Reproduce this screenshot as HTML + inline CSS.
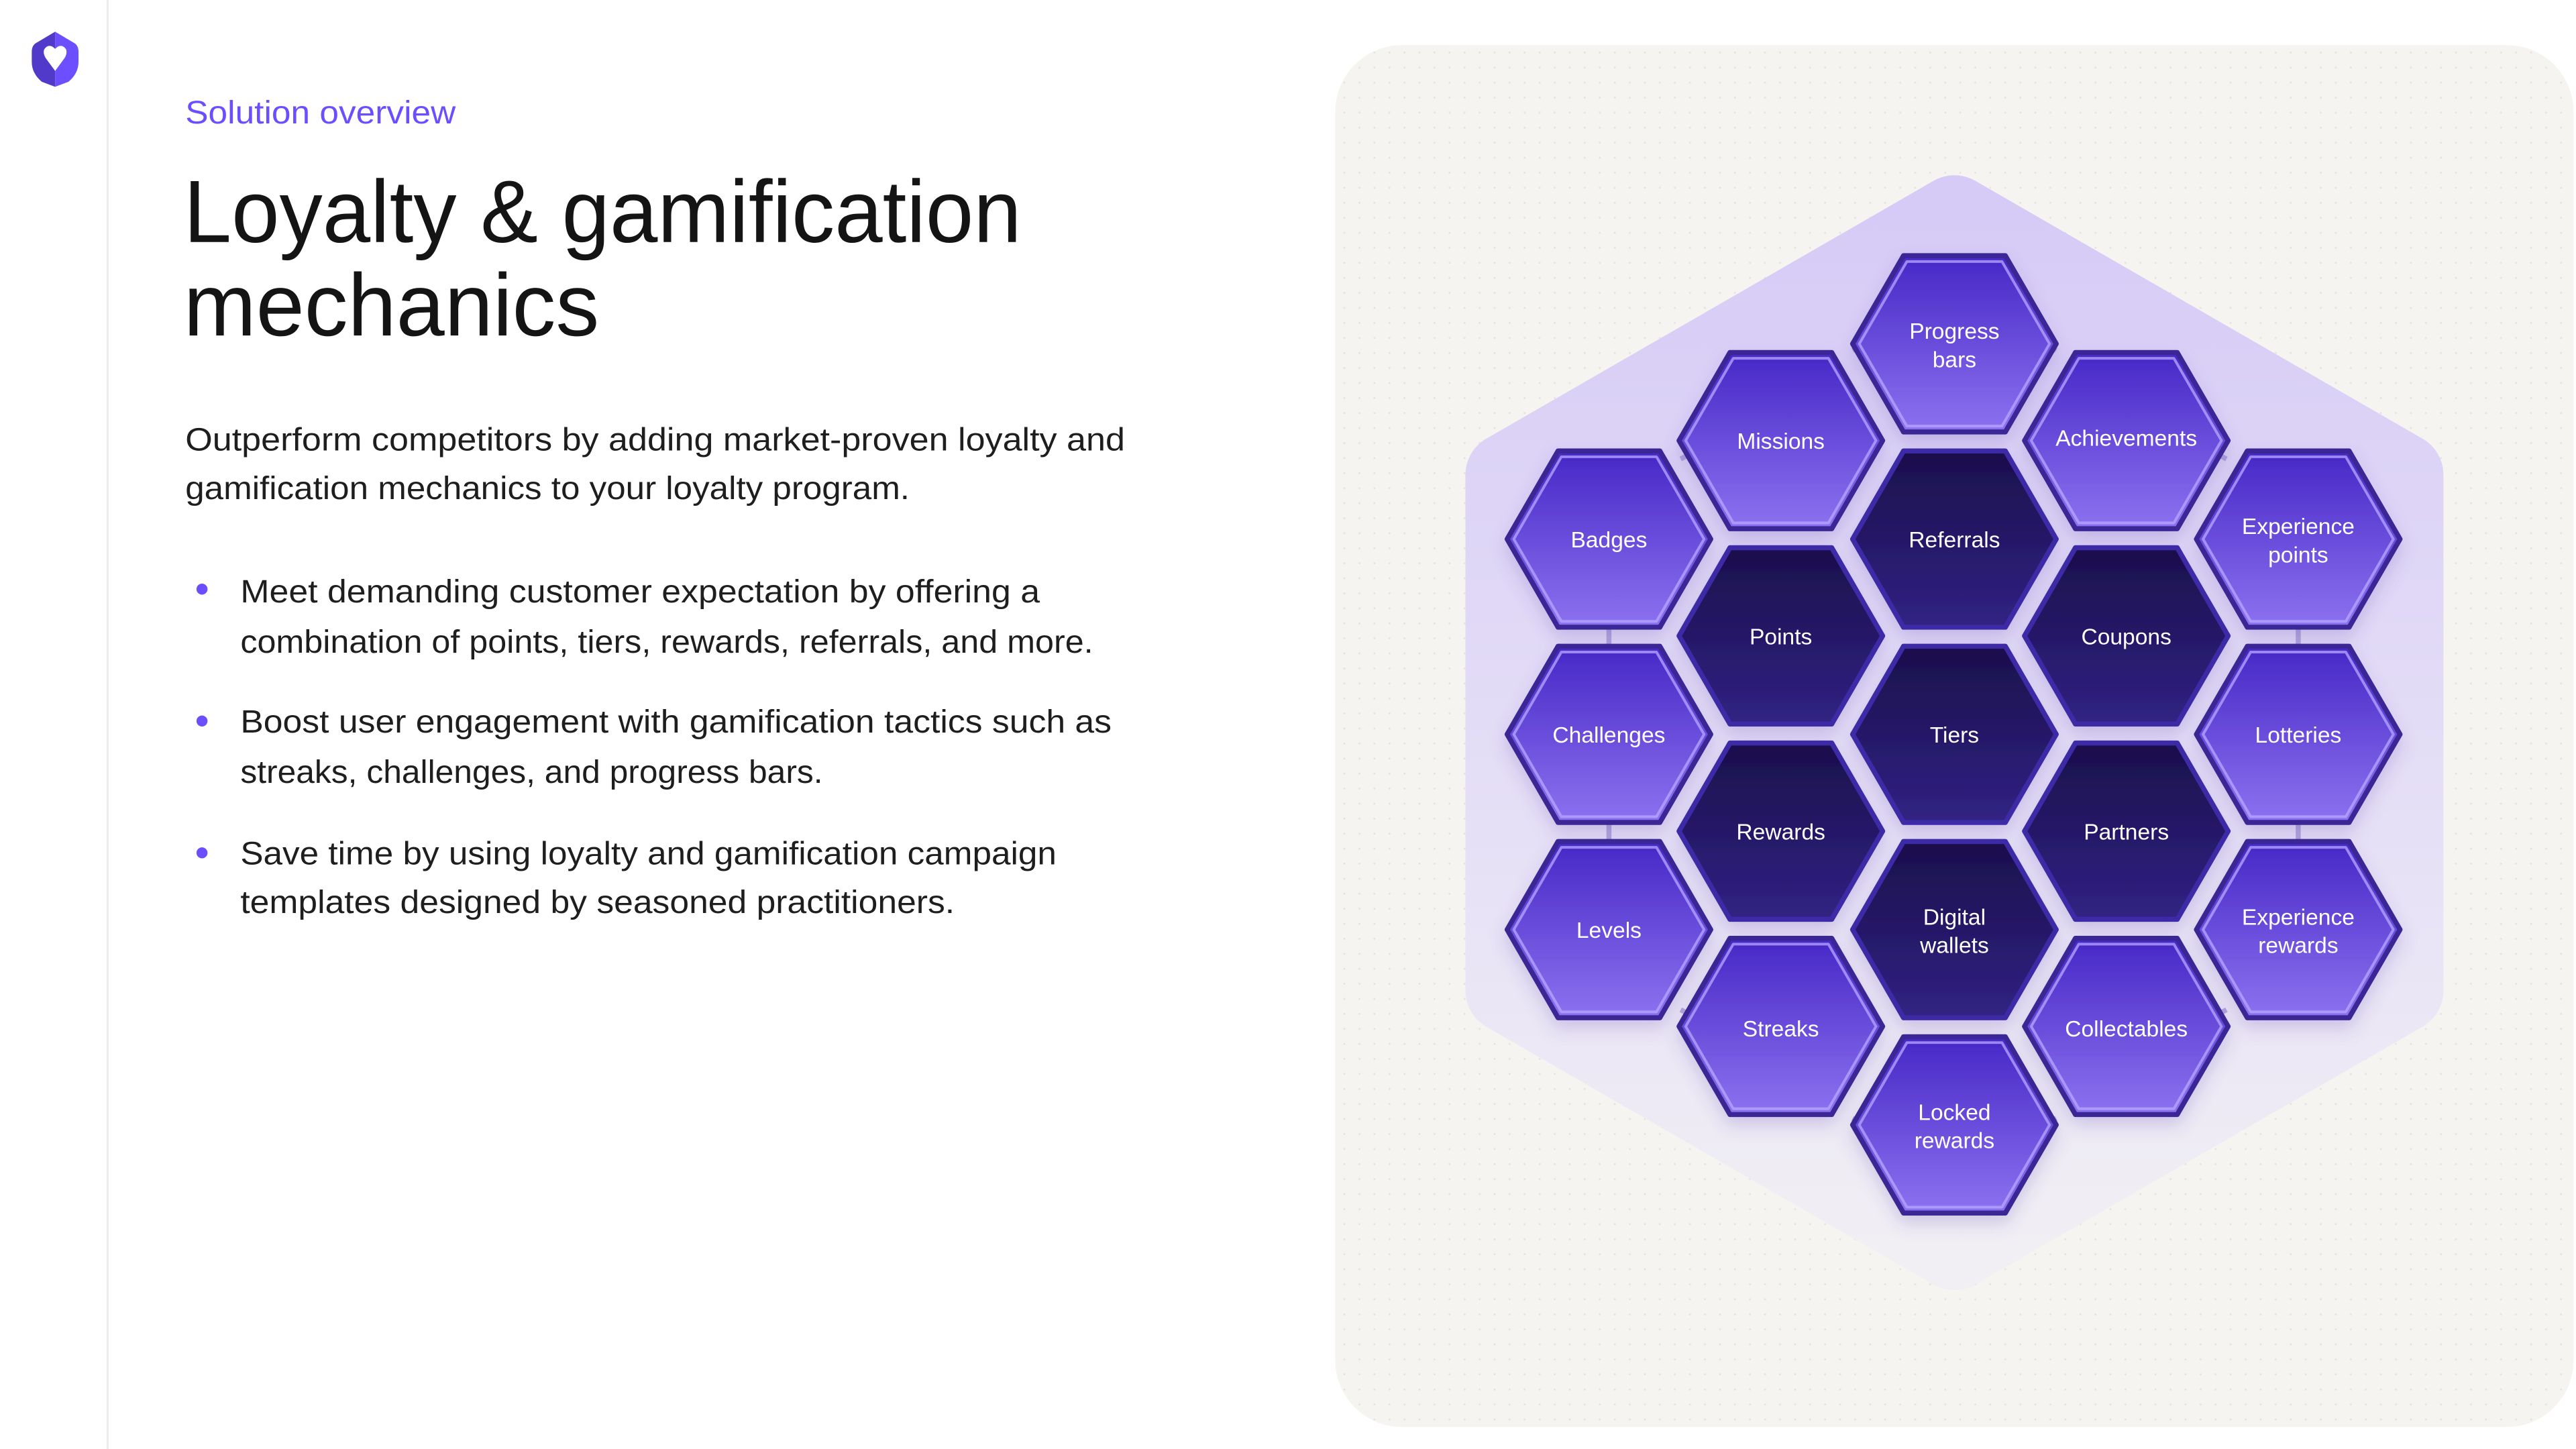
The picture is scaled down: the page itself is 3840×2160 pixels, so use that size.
<!DOCTYPE html>
<html><head><meta charset="utf-8"><style>
html,body{margin:0;padding:0;background:#fff;}
svg{display:block;}
text{font-family:"Liberation Sans",sans-serif;}
</style></head><body>
<svg width="3840" height="2160" viewBox="0 0 1543.4 868.2" xmlns="http://www.w3.org/2000/svg">
<defs>
<linearGradient id="lg" x1="0" y1="0" x2="0" y2="1"><stop offset="0" stop-color="#4628c6"/><stop offset="1" stop-color="#8c72f0"/></linearGradient>
<linearGradient id="dg" x1="0" y1="0" x2="0" y2="1"><stop offset="0" stop-color="#1b0f4c"/><stop offset="1" stop-color="#312283"/></linearGradient>
<linearGradient id="bg" x1="0" y1="0" x2="0" y2="1"><stop offset="0" stop-color="#d6cbf6"/><stop offset="0.6" stop-color="#e6e0f6"/><stop offset="1" stop-color="#f1eff4"/></linearGradient>
<pattern id="dots" width="9" height="9" patternUnits="userSpaceOnUse"><circle cx="4.5" cy="4.5" r="0.6" fill="#e5e3de"/></pattern>
<filter id="sh" x="-30%" y="-30%" width="160%" height="170%"><feDropShadow dx="0" dy="5" stdDeviation="5" flood-color="#5a45b0" flood-opacity="0.22"/></filter>
<g id="hl">
<polygon points="61,0 30.5,52.8 -30.5,52.8 -61,0 -30.5,-52.8 30.5,-52.8" fill="url(#lg)" stroke="#3a2896" stroke-width="3" stroke-linejoin="round"/>
<polygon points="57,0 28.5,49.3 -28.5,49.3 -57,0 -28.5,-49.3 28.5,-49.3" fill="none" stroke="#b8a8ff" stroke-opacity="0.75" stroke-width="1.6" stroke-linejoin="round"/>
</g>
<g id="hd">
<polygon points="61,0 30.5,52.8 -30.5,52.8 -61,0 -30.5,-52.8 30.5,-52.8" fill="url(#dg)" stroke="#3d2aa6" stroke-width="3" stroke-linejoin="round"/>
</g>
</defs>

<!-- sidebar -->
<line x1="64.5" y1="0" x2="64.5" y2="868.2" stroke="#ececec" stroke-width="1.2"/>
<path d="M33,19 L44,25.5 Q47,27 47,31 L47,37 Q47,44 41,49 L33,52 Z" fill="#6e4fff"/>
<path d="M33,19 L22,25.5 Q19,27 19,31 L19,37 Q19,44 25,49 L33,52 Z" fill="#5139c9"/>
<path d="M33,42.5 L27.5,35 Q25.5,32 26.5,29.5 Q28.5,26.5 31.5,28 L33,29.3 L34.5,28 Q37.5,26.5 39.5,29.5 Q40.5,32 38.5,35 Z" fill="#fff"/>

<!-- left text -->
<text x="111" y="74" font-size="19.5" fill="#6b4eff" textLength="162" lengthAdjust="spacingAndGlyphs">Solution overview</text>
<text x="110" y="145" font-size="53" fill="#141414" textLength="502" lengthAdjust="spacingAndGlyphs">Loyalty &amp; gamification</text>
<text x="110" y="201" font-size="53" fill="#141414" textLength="249" lengthAdjust="spacingAndGlyphs">mechanics</text>
<g font-size="19.5" fill="#1e1e1e">
<text x="111" y="270" textLength="563" lengthAdjust="spacingAndGlyphs">Outperform competitors by adding market-proven loyalty and</text>
<text x="111" y="299" textLength="434" lengthAdjust="spacingAndGlyphs">gamification mechanics to your loyalty program.</text>
<text x="144" y="361" textLength="479" lengthAdjust="spacingAndGlyphs">Meet demanding customer expectation by offering a</text>
<text x="144" y="391" textLength="511" lengthAdjust="spacingAndGlyphs">combination of points, tiers, rewards, referrals, and more.</text>
<text x="144" y="439" textLength="522" lengthAdjust="spacingAndGlyphs">Boost user engagement with gamification tactics such as</text>
<text x="144" y="469" textLength="349" lengthAdjust="spacingAndGlyphs">streaks, challenges, and progress bars.</text>
<text x="144" y="518" textLength="489" lengthAdjust="spacingAndGlyphs">Save time by using loyalty and gamification campaign</text>
<text x="144" y="547" textLength="428" lengthAdjust="spacingAndGlyphs">templates designed by seasoned practitioners.</text>
</g>
<circle cx="121" cy="353" r="3.3" fill="#6b4eff"/>
<circle cx="121" cy="432" r="3.3" fill="#6b4eff"/>
<circle cx="121" cy="511" r="3.3" fill="#6b4eff"/>

<!-- panel -->
<rect x="800" y="27" width="742" height="828" rx="40" fill="#f5f4f0"/>
<rect x="800" y="27" width="742" height="828" rx="40" fill="url(#dots)"/>
<polygon points="1171,130 1439,284.5 1439,593.5 1171,748 903,593.5 903,284.5" fill="url(#bg)" stroke="url(#bg)" stroke-width="50" stroke-linejoin="round"/>

<!-- connectors -->
<g stroke="#a497d6" stroke-width="3" opacity="0.8">
<line x1="964" y1="375" x2="964" y2="390"/><line x1="964" y1="492" x2="964" y2="507"/>
<line x1="1377" y1="375" x2="1377" y2="390"/><line x1="1377" y1="492" x2="1377" y2="507"/>
<line x1="1110" y1="210" x2="1125" y2="202"/><line x1="1232" y1="210" x2="1217" y2="202"/>
<line x1="1110" y1="670" x2="1125" y2="678"/><line x1="1232" y1="670" x2="1217" y2="678"/>
<line x1="1007" y1="275" x2="1020" y2="268"/><line x1="1334" y1="275" x2="1321" y2="268"/>
<line x1="1007" y1="605" x2="1020" y2="612"/><line x1="1334" y1="605" x2="1321" y2="612"/>
</g>

<!-- hexes -->
<g filter="url(#sh)">
<use href="#hl" x="1171" y="206"/>
<use href="#hl" x="1067" y="264"/>
<use href="#hl" x="1274" y="264"/>
<use href="#hl" x="964" y="323"/>
<use href="#hd" x="1171" y="323"/>
<use href="#hl" x="1377" y="323"/>
<use href="#hd" x="1067" y="381"/>
<use href="#hd" x="1274" y="381"/>
<use href="#hl" x="964" y="440"/>
<use href="#hd" x="1171" y="440"/>
<use href="#hl" x="1377" y="440"/>
<use href="#hd" x="1067" y="498"/>
<use href="#hd" x="1274" y="498"/>
<use href="#hl" x="964" y="557"/>
<use href="#hd" x="1171" y="557"/>
<use href="#hl" x="1377" y="557"/>
<use href="#hl" x="1067" y="615"/>
<use href="#hl" x="1274" y="615"/>
<use href="#hl" x="1171" y="674"/>
</g>

<g font-size="13.5" fill="#fff" text-anchor="middle">
<text x="1171" y="203">Progress</text><text x="1171" y="220">bars</text>
<text x="1067" y="269">Missions</text>
<text x="1274" y="267">Achievements</text>
<text x="964" y="328">Badges</text>
<text x="1171" y="328">Referrals</text>
<text x="1377" y="320">Experience</text><text x="1377" y="337">points</text>
<text x="1067" y="386">Points</text>
<text x="1274" y="386">Coupons</text>
<text x="964" y="445">Challenges</text>
<text x="1171" y="445">Tiers</text>
<text x="1377" y="445">Lotteries</text>
<text x="1067" y="503">Rewards</text>
<text x="1274" y="503">Partners</text>
<text x="964" y="562">Levels</text>
<text x="1171" y="554">Digital</text><text x="1171" y="571">wallets</text>
<text x="1377" y="554">Experience</text><text x="1377" y="571">rewards</text>
<text x="1067" y="621">Streaks</text>
<text x="1274" y="621">Collectables</text>
<text x="1171" y="671">Locked</text><text x="1171" y="688">rewards</text>
</g>
</svg>
</body></html>
